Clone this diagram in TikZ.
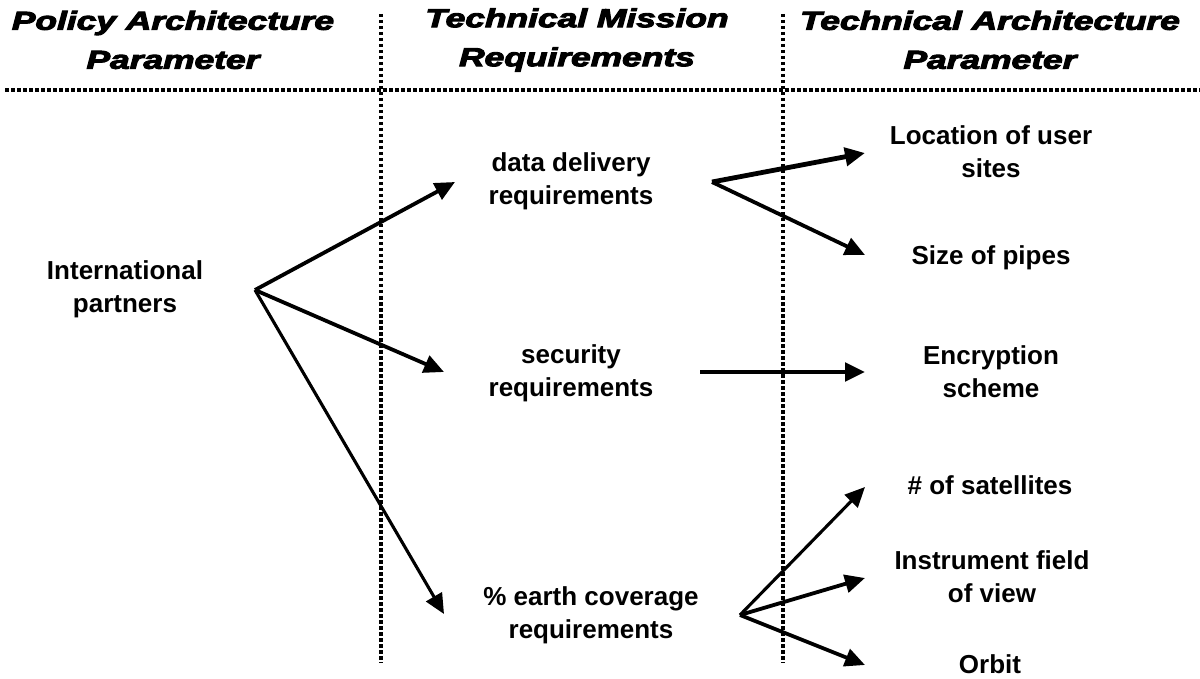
\documentclass[tikz,border=0pt]{standalone}
\usepackage{fontspec}
\usepackage{graphicx}
\setmainfont{Liberation Sans}
\newfontfamily\headfont[FakeBold=3.5]{Liberation Sans Bold Italic}
\usetikzlibrary{arrows.meta}
\newcommand\widehead[1]{\scalebox{1.36}[1]{#1}}
\begin{document}
\begin{tikzpicture}[x=1pt,y=-1pt,
  hdr/.style={align=center,font=\fontsize{26}{39}\headfont,inner sep=0pt},
  lbl/.style={align=center,font=\fontsize{26}{33}\selectfont\bfseries,inner sep=0pt},
  sepline/.style={line width=3.6pt,dash pattern=on 3.5pt off 2.5pt},
  arr/.style={line width=3.8pt,-{Triangle[length=20pt,width=18pt]}},
  thinarr/.style={arr,line width=3.1pt},
  thickarr/.style={arr,line width=4.8pt},
]
\useasboundingbox (0,0) rectangle (1200,679);
% headers
\node[hdr] (h1) at (173,40) {\widehead{Policy Architecture}\\\widehead{Parameter}};
\node[hdr] (h2) at (577,40) {\widehead{Technical Mission}\\\widehead{Requirements}};
\node[hdr] (h3) at (990,40) {\widehead{Technical Architecture}\\\widehead{Parameter}};
% separators
\draw[sepline] (5,90) -- (1200,90);
\draw[sepline] (381,14) -- (381,663);
\draw[sepline] (783,14) -- (783,663);
% labels
\node[lbl] (ip) at (125,289) {International\\partners};
\node[lbl] (dd) at (571,181) {data delivery\\requirements};
\node[lbl] (sec) at (571,373) {security\\requirements};
\node[lbl] (ec) at (591,615) {\% earth coverage\\requirements};
\node[lbl] (loc) at (991,152) {Location of user\\sites};
\node[lbl] (size) at (991,258) {Size of pipes};
\node[lbl] (enc) at (991,372) {Encryption\\scheme};
\node[lbl] (sat) at (990,485) {\# of satellites};
\node[lbl] (inst) at (992,577) {Instrument field\\of view};
\node[lbl] (orb) at (990,664) {Orbit};
% branch points and arrow ends
\coordinate (ipx) at (255,290);
\coordinate (ddx) at (712,182);
\coordinate (secx) at (700,372);
\coordinate (ecx) at (740,615);
\coordinate (ddin) at (455,182);
\coordinate (secin) at (444,372);
\coordinate (ecin) at (444,614);
\coordinate (locin) at (865,153);
\coordinate (sizein) at (865,255);
\coordinate (encin) at (865,372);
\coordinate (satin) at (865,487);
\coordinate (instin) at (865,578);
\coordinate (orbin) at (865,665);
% arrows
\draw[arr] (ipx) -- (ddin);
\draw[arr] (ipx) -- (secin);
\draw[thinarr] (ipx) -- (ecin);
\draw[thickarr] (ddx) -- (locin);
\draw[arr] (ddx) -- (sizein);
\draw[thickarr] (secx) -- (encin);
\draw[thinarr] (ecx) -- (satin);
\draw[arr] (ecx) -- (instin);
\draw[arr] (ecx) -- (orbin);
\end{tikzpicture}
\end{document}
